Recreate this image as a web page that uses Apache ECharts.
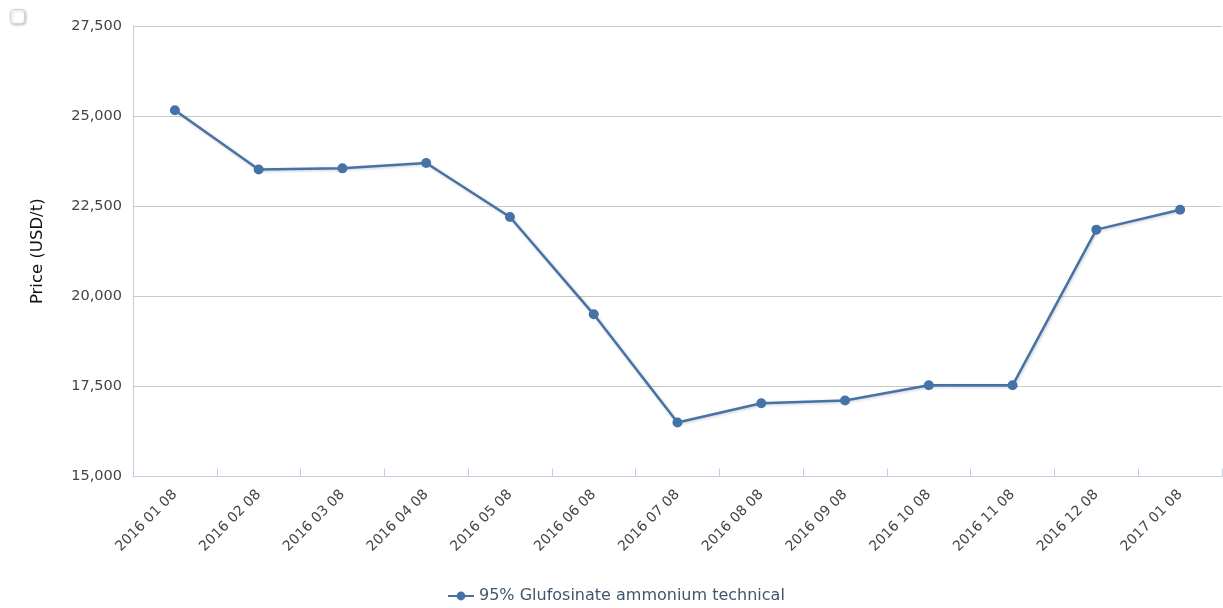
<!DOCTYPE html>
<html>
<head>
<meta charset="utf-8">
<script src="https://cdn.jsdelivr.net/npm/echarts@6/dist/echarts.min.js"></script>
<style>html,body{margin:0;padding:0;background:#fff}#c{width:1223px;height:608px}</style>
</head>
<body>
<div id="c"></div>
<script>
var categories = ['2016 01 08','2016 02 08','2016 03 08','2016 04 08','2016 05 08','2016 06 08','2016 07 08','2016 08 08','2016 09 08','2016 10 08','2016 11 08','2016 12 08','2017 01 08'];
var prices = [25160, 23520, 23550, 23700, 22200, 19500, 16500, 17030, 17110, 17530, 17530, 21850, 22400];
var seriesName = '95% Glufosinate ammonium technical';
var yAxisTitle = 'Price (USD/t)';

var chart = echarts.init(document.getElementById('c'));
var font = '"DejaVu Sans", Verdana, sans-serif';
chart.setOption({
  animation: false,
  textStyle: {fontFamily: font},
  graphic: [{
    type: 'rect', left: 10, top: 9,
    shape: {width: 14, height: 14, r: 3},
    style: {fill: '#fff', stroke: '#d4d4d4', lineWidth: 1, shadowColor: 'rgba(0,0,0,0.25)', shadowBlur: 3, shadowOffsetX: 1, shadowOffsetY: 1}
  }],
  grid: {left: 133, right: 1, top: 26, bottom: 131.5},
  legend: {
    top: 583, left: 442,
    itemWidth: 26, itemHeight: 11, itemGap: 10,
    textStyle: {color: '#3e576f', fontSize: 16, fontFamily: font},
    data: [seriesName]
  },
  xAxis: {
    type: 'category',
    data: categories,
    boundaryGap: true,
    axisLine: {lineStyle: {color: '#c0d0e0', width: 1}},
    axisTick: {show: true, inside: true, length: 8, lineStyle: {color: '#c0d0e0'}},
    axisLabel: {rotate: 45, color: '#444', fontSize: 14, margin: 16, interval: 0, fontFamily: font},
    splitLine: {show: false}
  },
  yAxis: {
    type: 'value',
    min: 15000, max: 27500, interval: 2500,
    name: yAxisTitle,
    nameLocation: 'middle',
    nameGap: 87,
    nameRotate: 90,
    nameTextStyle: {color: '#111', fontSize: 16.5, fontFamily: font},
    axisLine: {show: true, lineStyle: {color: '#c0d0e0'}},
    axisTick: {show: false},
    axisLabel: {color: '#444', fontSize: 14.5, margin: 11, fontFamily: font,
      formatter: function (v) { return v.toLocaleString('en-US'); }},
    splitLine: {lineStyle: {color: '#c8c8c8', width: 1}}
  },
  series: [{
    name: seriesName,
    type: 'line',
    data: prices,
    symbol: 'circle',
    symbolSize: 10,
    itemStyle: {color: '#4572A7'},
    lineStyle: {color: '#4572A7', width: 2.5, shadowColor: 'rgba(0,0,0,0.2)', shadowBlur: 3, shadowOffsetX: 1, shadowOffsetY: 1}
  }]
});
</script>
</body>
</html>
